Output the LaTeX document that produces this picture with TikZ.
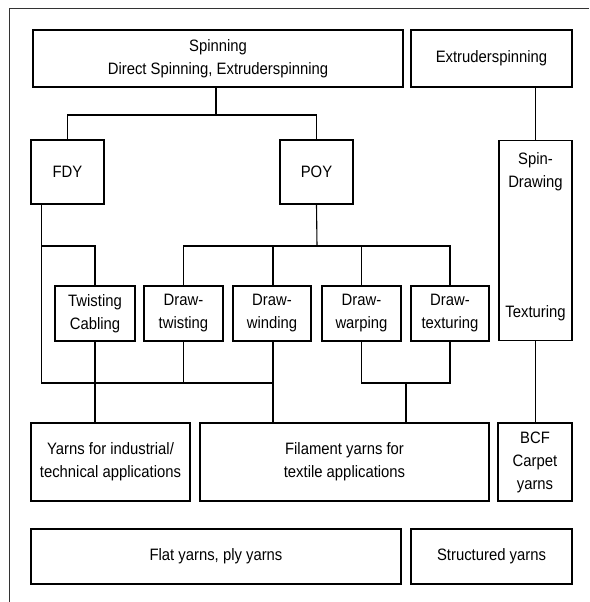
\documentclass[tikz,border=0pt]{standalone}
\usepackage{fontspec}
\setmainfont{Liberation Sans}[FakeStretch=0.9]

\tikzset{
  proc/.style={draw, line width=1.8pt, align=center, inner sep=0pt,
    font=\fontsize{16.5}{23}\selectfont},
  link/.style={line width=1.1pt},
}

\begin{document}
\begin{tikzpicture}[x=1pt, y=-1pt]
	\useasboundingbox (0,0) rectangle (589,602);
	% outer frame (top and left only)
	\draw [line width=1pt, black!80] (589,9) -- (9,9) -- (9,602);

	% spinning stage
	\node [proc, minimum width=370pt, minimum height=57pt] (spin) at (218,58.5) {Spinning\\Direct Spinning, Extruderspinning};
	\node [proc, minimum width=161pt, minimum height=57pt] (extr) at (491.5,58.5) {Extruderspinning};
	\node [proc, minimum width=73pt, minimum height=64pt] (fdy) at (67.5,172) {FDY};
	\node [proc, minimum width=73pt, minimum height=64pt] (poy) at (316.5,172) {POY};
	\node [proc, minimum width=73pt, minimum height=200pt] (sdraw) at (535.5,240.5) {};
	\node [proc, draw=none, anchor=north] (sdraw1) at ([yshift=-12pt]sdraw.north) {Spin-\\Drawing};
	\node [proc, draw=none, anchor=south] (sdraw2) at ([yshift=20pt]sdraw.south) {Texturing};

	% processing
	\node [proc, minimum width=80pt, minimum height=55pt] (twist) at (95,313.5) {Twisting\\Cabling};
	\node [proc, minimum width=79pt, minimum height=55pt] (dtwist) at (183.5,313.5) {Draw-\\twisting};
	\node [proc, minimum width=78pt, minimum height=55pt] (dwind) at (272,313.5) {Draw-\\winding};
	\node [proc, minimum width=79pt, minimum height=55pt] (dwarp) at (361.5,313.5) {Draw-\\warping};
	\node [proc, minimum width=78pt, minimum height=55pt] (dtext) at (450,313.5) {Draw-\\texturing};

	% products
	\node [proc, minimum width=159pt, minimum height=78pt] (ind) at (110.5,462) {Yarns for industrial/\\technical applications};
	\node [proc, minimum width=289pt, minimum height=78pt] (fil) at (344.5,462) {Filament yarns for\\textile applications};
	\node [proc, minimum width=74pt, minimum height=78pt] (bcf) at (535,462) {BCF\\Carpet\\yarns};
	\node [proc, minimum width=370pt, minimum height=55pt] (flat) at (216,556.5) {Flat yarns, ply yarns};
	\node [proc, minimum width=161pt, minimum height=55pt] (struc) at (491.5,556.5) {Structured yarns};

	% connections
	\coordinate (j1) at (216,115);
	\coordinate (fdyout) at ([xshift=11pt]fdy.south west);
	\coordinate (j2) at (317,246);
	\coordinate (j3) at (273,383);
	\coordinate (j4) at (406,383);
	\draw [link] (j1 |- spin.south) -- (j1);
	\draw [link] (fdy.north) |- (j1) -| (poy.north);
	\draw [link] (sdraw.north) -- (sdraw.north |- extr.south);
	\draw [link] (fdyout) |- (twist.north |- j2) -- (twist.north);
	\draw [link] (fdyout) -- (fdyout |- j3) -- (j3);
	\draw [link] (poy.south) -- (j2);
	\draw [link] (dtwist.north) |- (j2) -| (dtext.north);
	\draw [link] (j3 |- dwind.north) -- (j3 |- j2);
	\draw [link] (dwarp.north) -- (dwarp.north |- j2);
	\draw [link] (twist.south) -- (twist.south |- ind.north);
	\draw [link] (dtwist.south) -- (dtwist.south |- j3);
	\draw [link] (j3 |- dwind.south) -- (j3 |- fil.north);
	\draw [link] (dwarp.south) |- (j4) -| (dtext.south);
	\draw [link] (j4) -- (j4 |- fil.north);
	\draw [link] (sdraw.south) -- (sdraw.south |- bcf.north);
\end{tikzpicture}
\end{document}
